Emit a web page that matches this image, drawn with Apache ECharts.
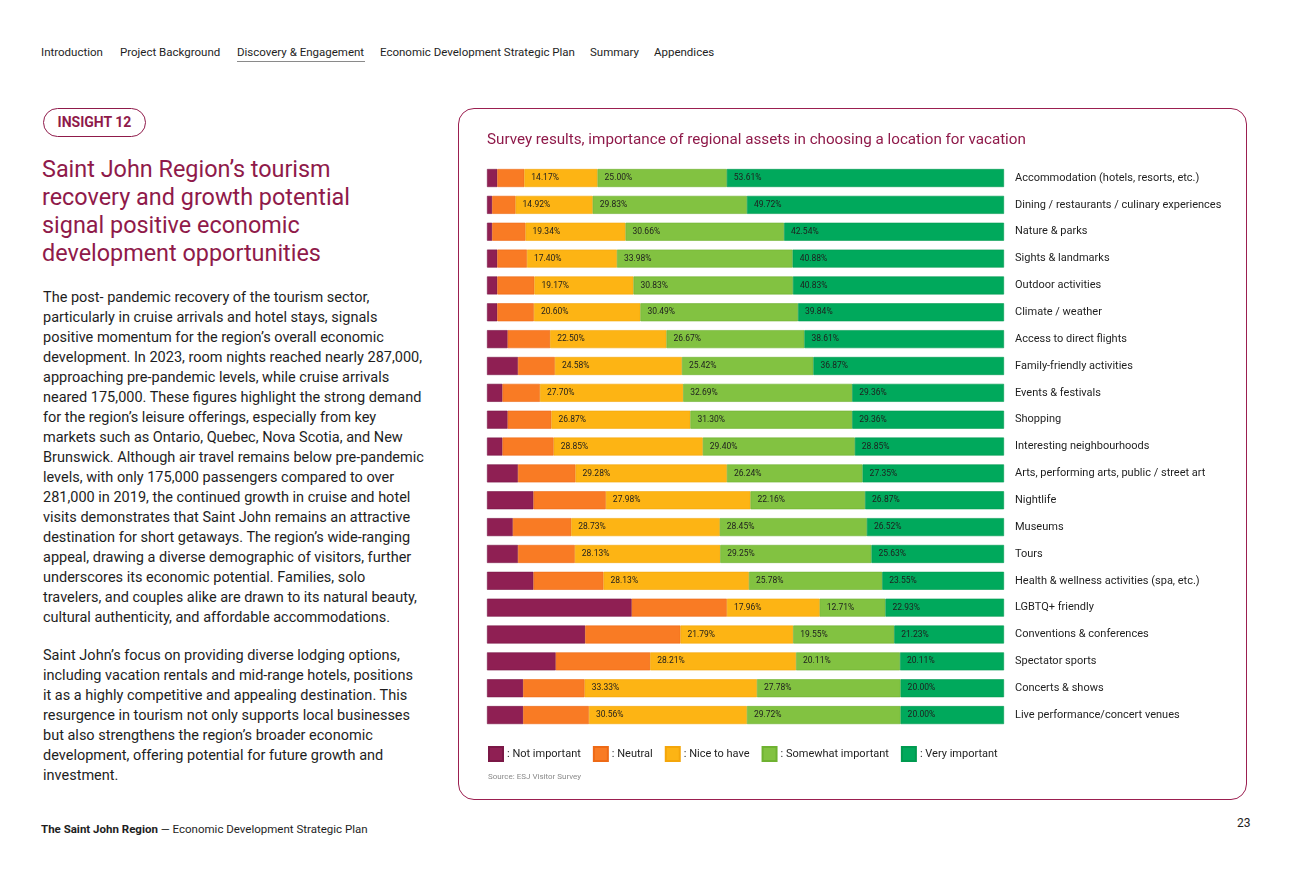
<!DOCTYPE html>
<html>
<head>
<meta charset="utf-8">
<script src="https://cdn.jsdelivr.net/npm/echarts@6/dist/echarts.min.js"></script>
<style>
  html, body { margin:0; padding:0; background:#fff; }
  body { width:1293px; height:876px; position:relative; overflow:hidden; font-family: Roboto, "Noto Sans", sans-serif; color:#1e1e1e; }
  .abs { position:absolute; white-space:nowrap; }
  .nav { top:44px; font-size:11.5px; line-height:16px; }
  .badge { left:43px; top:108px; width:103px; height:29px; box-sizing:border-box; border:1.5px solid #8f1a4a; border-radius:15px; color:#8f1a4a; font-weight:700; font-size:14px; line-height:26px; text-align:center; }
  .heading { left:42px; top:155px; font-size:23.4px; line-height:28px; color:#8f1a4a; }
  .body { left:43px; font-size:14.5px; line-height:20px; color:#1e1e1e; }
  .card { left:458px; top:108px; width:789px; height:692px; box-sizing:border-box; border:1.5px solid #9b1f50; border-radius:16px; }
  #chart { position:absolute; left:458px; top:108px; width:789px; height:692px; }
</style>
</head>
<body>
<div class="abs nav" style="left:41px;">Introduction</div>
<div class="abs nav" style="left:120px;">Project Background</div>
<div class="abs nav" style="left:237px;">Discovery &amp; Engagement</div>
<div class="abs" style="left:237px; top:61px; width:128px; height:1px; background:#8a8a8a;"></div>
<div class="abs nav" style="left:380px;">Economic Development Strategic Plan</div>
<div class="abs nav" style="left:590px;">Summary</div>
<div class="abs nav" style="left:654px;">Appendices</div>

<div class="abs badge">INSIGHT 12</div>

<div class="abs heading">Saint John Region’s tourism<br>recovery and growth potential<br>signal positive economic<br>development opportunities</div>

<div class="abs body" style="top:288px;">The post- pandemic recovery of the tourism sector,<br>particularly in cruise arrivals and hotel stays, signals<br>positive momentum for the region’s overall economic<br>development. In 2023, room nights reached nearly 287,000,<br>approaching pre-pandemic levels, while cruise arrivals<br>neared 175,000. These figures highlight the strong demand<br>for the region’s leisure offerings, especially from key<br>markets such as Ontario, Quebec, Nova Scotia, and New<br>Brunswick. Although air travel remains below pre-pandemic<br>levels, with only 175,000 passengers compared to over<br>281,000 in 2019, the continued growth in cruise and hotel<br>visits demonstrates that Saint John remains an attractive<br>destination for short getaways. The region’s wide-ranging<br>appeal, drawing a diverse demographic of visitors, further<br>underscores its economic potential. Families, solo<br>travelers, and couples alike are drawn to its natural beauty,<br>cultural authenticity, and affordable accommodations.</div>

<div class="abs body" style="top:646px;">Saint John’s focus on providing diverse lodging options,<br>including vacation rentals and mid-range hotels, positions<br>it as a highly competitive and appealing destination. This<br>resurgence in tourism not only supports local businesses<br>but also strengthens the region’s broader economic<br>development, offering potential for future growth and<br>investment.</div>

<div class="abs" style="left:41px; top:821px; font-size:11.5px; line-height:16px;"><b>The Saint John Region</b> — Economic Development Strategic Plan</div>
<div class="abs" style="left:1237px; top:815px; font-size:12px; line-height:16px;">23</div>

<div class="abs card"></div>
<div id="chart"></div>

<script>
const categories = [
  'Accommodation (hotels, resorts, etc.)',
  'Dining / restaurants / culinary experiences',
  'Nature & parks',
  'Sights & landmarks',
  'Outdoor activities',
  'Climate / weather',
  'Access to direct flights',
  'Family-friendly activities',
  'Events & festivals',
  'Shopping',
  'Interesting neighbourhoods',
  'Arts, performing arts, public / street art',
  'Nightlife',
  'Museums',
  'Tours',
  'Health & wellness activities (spa, etc.)',
  'LGBTQ+ friendly',
  'Conventions & conferences',
  'Spectator sports',
  'Concerts & shows',
  'Live performance/concert venues'
];
const seriesNames = ['Not important', 'Neutral', 'Nice to have', 'Somewhat important', 'Very important'];
const notImportant      = [2.0, 1.0, 1.0, 2.0, 2.0, 2.0, 4.0, 6.0, 3.0, 4.0, 3.0, 6.0, 9.0, 5.0, 6.0, 9.0, 28.0, 19.0, 13.3, 7.0, 7.0];
const neutral           = [5.22, 4.53, 6.46, 5.74, 7.17, 7.07, 8.22, 7.13, 7.25, 8.47, 9.90, 11.13, 13.99, 11.30, 10.99, 13.54, 18.40, 18.43, 18.27, 11.89, 12.72];
const niceToHave        = [14.17, 14.92, 19.34, 17.40, 19.17, 20.60, 22.50, 24.58, 27.70, 26.87, 28.85, 29.28, 27.98, 28.73, 28.13, 28.13, 17.96, 21.79, 28.21, 33.33, 30.56];
const somewhatImportant = [25.00, 29.83, 30.66, 33.98, 30.83, 30.49, 26.67, 25.42, 32.69, 31.30, 29.40, 26.24, 22.16, 28.45, 29.25, 25.78, 12.71, 19.55, 20.11, 27.78, 29.72];
const veryImportant     = [53.61, 49.72, 42.54, 40.88, 40.83, 39.84, 38.61, 36.87, 29.36, 29.36, 28.85, 27.35, 26.87, 26.52, 25.63, 23.55, 22.93, 21.23, 20.11, 20.00, 20.00];
const colors = ['#8f1f53', '#f97b24', '#fdb414', '#82c241', '#00a95c'];
const borders = ['#7a1846', '#ee6a16', '#f4a60a', '#6fb231', '#009a50'];

const chart = echarts.init(document.getElementById('chart'));
const allData = [notImportant, neutral, niceToHave, somewhatImportant, veryImportant];
const series = allData.map((d, i) => ({
  name: seriesNames[i],
  type: 'bar',
  stack: 'total',
  barWidth: 18,
  data: d,
  itemStyle: { color: colors[i], borderColor: borders[i], borderWidth: 0.6 },
  label: i >= 2 ? {
    show: true,
    position: 'insideLeft',
    distance: 7,
    fontSize: 8.5,
    color: '#1e1e1e',
    fontFamily: 'Roboto',
    formatter: p => p.value.toFixed(2) + '%'
  } : { show: false },
  emphasis: { disabled: true }
}));

chart.setOption({
  animation: false,
  textStyle: { fontFamily: 'Roboto' },
  title: {
    text: 'Survey results, importance of regional assets in choosing a location for vacation',
    left: 29, top: 25, padding: 0,
    textStyle: { color: '#8f1a4a', fontSize: 15.2, fontWeight: 'normal', fontFamily: 'Roboto' }
  },
  grid: { left: 29, right: 243, top: 56.6, bottom: 71.5, containLabel: false },
  xAxis: { type: 'value', min: 0, max: 100, show: false },
  yAxis: {
    type: 'category',
    data: categories,
    inverse: true,
    position: 'right',
    axisLine: { show: false },
    axisTick: { show: false },
    axisLabel: { margin: 11, align: 'left', fontSize: 11, color: '#1e1e1e', fontFamily: 'Roboto' }
  },
  legend: {
    data: seriesNames,
    left: 30, top: 638, padding: 0,
    icon: 'rect',
    itemWidth: 14, itemHeight: 14, itemGap: 12,
    formatter: ': {name}',
    textStyle: { fontSize: 11, color: '#1e1e1e', fontFamily: 'Roboto', padding: [0, 0, 0, -1] }
  },
  graphic: [{
    type: 'text', left: 30, top: 665,
    style: { text: 'Source: ESJ Visitor Survey', fontSize: 8, fill: '#8a8a8a', fontFamily: 'Roboto' }
  }],
  series: series
});
</script>
</body>
</html>
